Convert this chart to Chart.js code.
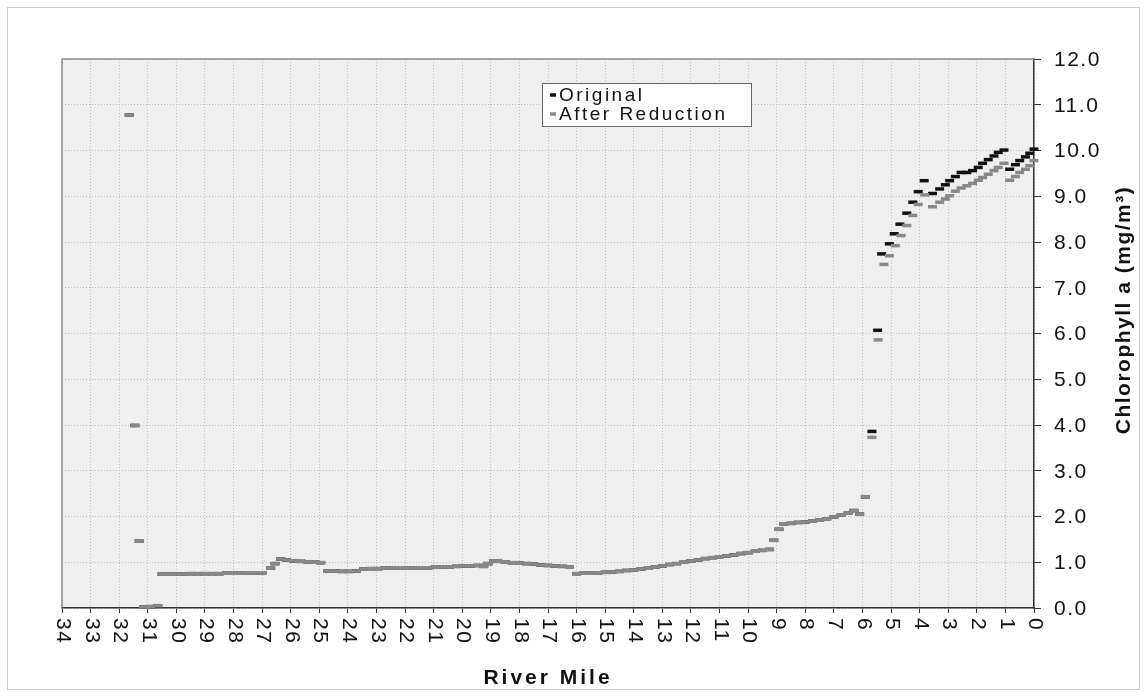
<!DOCTYPE html>
<html lang="en">
<head>
<meta charset="UTF-8">
<title>Chlorophyll a by River Mile</title>
<script src="https://cdn.jsdelivr.net/npm/chart.js"></script>
<style>
    body {
        margin: 0;
        background: #fff;
    }

    /* thin frame round the whole figure, like the scanned page */
    .frame {
        position: absolute;
        left: 7px;
        top: 7px;
        width: 1131px;
        height: 681px;
        border: 1px solid #cccccc;
    }

    .chart-box {
        position: absolute;
        left: 0;
        top: 0;
        width: 1147px;
        height: 694px;
    }
</style>
</head>
<body>
<div class="frame"></div>
<div class="chart-box"><canvas id="chlChart"></canvas></div>

<script>
// upper river: both runs give the same values here
const upstreamMile = [
    31.65, 31.45, 31.3, 31.15, 30.9, 30.65, 30.5, 30.25, 30.0, 29.75,
    29.5, 29.25, 29.0, 28.75, 28.5, 28.25, 28.0, 27.75, 27.5, 27.25,
    27.0, 26.7, 26.55, 26.35, 26.15, 25.9, 25.65, 25.4, 25.15, 24.95,
    24.7, 24.45, 24.2, 23.95, 23.7, 23.45, 23.2, 22.95, 22.7, 22.45,
    22.2, 21.95, 21.7, 21.45, 21.2, 20.95, 20.7, 20.45, 20.2, 19.95,
    19.7, 19.45, 19.25, 19.1, 18.9, 18.75, 18.5, 18.25, 18.0, 17.75,
    17.5, 17.25, 17.0, 16.75, 16.5, 16.25, 16.0, 15.75, 15.5, 15.25,
    15.0, 14.75, 14.5, 14.25, 14.0, 13.75, 13.5, 13.25, 13.0, 12.75,
    12.5, 12.25, 12.0, 11.75, 11.5, 11.25, 11.0, 10.75, 10.5, 10.25,
    10.0, 9.75, 9.5, 9.25, 9.1, 8.92, 8.75, 8.5, 8.25, 8.0,
    7.75, 7.5, 7.25, 7.0, 6.75, 6.5, 6.3, 6.1, 5.9
];
const upstreamChl = [
    10.78, 3.99, 1.46, 0.02, 0.03, 0.05, 0.74, 0.74, 0.74, 0.74,
    0.75, 0.75, 0.75, 0.75, 0.75, 0.76, 0.76, 0.76, 0.77, 0.77,
    0.77, 0.87, 0.97, 1.07, 1.05, 1.03, 1.02, 1.01, 1.00, 0.99,
    0.81, 0.81, 0.80, 0.80, 0.81, 0.85, 0.86, 0.86, 0.87, 0.87,
    0.88, 0.87, 0.87, 0.88, 0.88, 0.89, 0.90, 0.90, 0.91, 0.92,
    0.92, 0.93, 0.91, 0.97, 1.03, 1.02, 1.01, 0.99, 0.98, 0.97,
    0.96, 0.94, 0.93, 0.92, 0.91, 0.89, 0.75, 0.76, 0.76, 0.77,
    0.78, 0.79, 0.80, 0.82, 0.83, 0.85, 0.87, 0.90, 0.92, 0.95,
    0.97, 1.00, 1.03, 1.05, 1.08, 1.10, 1.12, 1.14, 1.16, 1.19,
    1.21, 1.24, 1.26, 1.28, 1.48, 1.72, 1.84, 1.85, 1.87, 1.88,
    1.90, 1.92, 1.95, 1.99, 2.03, 2.08, 2.13, 2.05, 2.43
];

// lower river, where the two runs split
const lowerMileOriginal = [
    5.67, 5.47, 5.33, 5.06, 4.89, 4.69, 4.45, 4.24, 4.05, 3.84,
    3.55, 3.30, 3.10, 2.95, 2.75, 2.55, 2.35, 2.15, 1.95, 1.80,
    1.60, 1.40, 1.25, 1.05, 0.85, 0.65, 0.50, 0.30, 0.15, 0.0
];
const lowerChlOriginal = [
    3.86, 6.07, 7.74, 7.96, 8.18, 8.39, 8.63, 8.87, 9.10, 9.34,
    9.06, 9.16, 9.25, 9.34, 9.43, 9.52, 9.52, 9.56, 9.63, 9.72,
    9.80, 9.88, 9.96, 10.01, 9.59, 9.69, 9.78, 9.86, 9.94, 10.03
];
const lowerMileReduced = [
    5.67, 5.45, 5.25, 5.06, 4.85, 4.65, 4.45, 4.24, 4.05, 3.82,
    3.55, 3.30, 3.10, 2.95, 2.75, 2.55, 2.35, 2.15, 1.95, 1.80,
    1.60, 1.40, 1.25, 1.05, 0.85, 0.65, 0.50, 0.30, 0.15, 0.0
];
const lowerChlReduced = [
    3.73, 5.86, 7.51, 7.70, 7.92, 8.14, 8.36, 8.58, 8.82, 9.03,
    8.77, 8.87, 8.94, 9.01, 9.11, 9.18, 9.23, 9.28, 9.35, 9.41,
    9.48, 9.56, 9.63, 9.72, 9.35, 9.43, 9.52, 9.59, 9.67, 9.78
];

const mileTicks = [34, 33, 32, 31, 30, 29, 28, 27, 26, 25, 24, 23, 22, 21, 20, 19, 18,
                   17, 16, 15, 14, 13, 12, 11, 10, 9, 8, 7, 6, 5, 4, 3, 2, 1, 0];
const chlTicks = [0, 1, 2, 3, 4, 5, 6, 7, 8, 9, 10, 11, 12];

const seriesNames = ['Original', 'After Reduction'];
const xTitle = 'River Mile';
const yTitle = 'Chlorophyll a (mg/m\u00B3)';

function toPoints(miles, vals) {
    return miles.map((m, i) => ({ x: m, y: vals[i] }));
}

const FONT = '"Liberation Sans", Arial, Helvetica, sans-serif';

// plot area shading, frame, tick labels, titles and legend
const decor = {
    id: 'decor',
    beforeDraw(chart) {
        const { ctx, chartArea: a } = chart;
        ctx.save();
        ctx.fillStyle = '#efefef';
        ctx.fillRect(a.left, a.top, a.right - a.left, a.bottom - a.top);
        ctx.restore();
    },
    beforeDatasetsDraw(chart) {
        const { ctx, chartArea: a } = chart;
        ctx.save();
        ctx.strokeStyle = '#8c8c8c';
        ctx.lineWidth = 1.5;
        ctx.beginPath();
        ctx.moveTo(a.left, a.bottom);
        ctx.lineTo(a.left, a.top);
        ctx.lineTo(a.right, a.top);
        ctx.stroke();
        ctx.restore();
    },
    afterDraw(chart) {
        const { ctx, chartArea: a } = chart;
        const xs = chart.scales.x;
        const ys = chart.scales.y;
        ctx.save();
        ctx.fillStyle = '#111';

        // x tick labels, turned a quarter clockwise
        ctx.font = '21px ' + FONT;
        ctx.letterSpacing = '1.5px';
        ctx.textAlign = 'left';
        ctx.textBaseline = 'middle';
        mileTicks.forEach(v => {
            const px = xs.getPixelForValue(v);
            ctx.save();
            ctx.translate(px + 1, a.bottom + 10);
            ctx.rotate(Math.PI / 2);
            ctx.fillText(String(v), 0, 0);
            ctx.restore();
        });

        // y tick labels on the right
        ctx.letterSpacing = '1.5px';
        chlTicks.forEach(v => {
            ctx.fillText(v.toFixed(1), a.right + 20, ys.getPixelForValue(v) + 1);
        });

        // axis titles
        ctx.font = 'bold 21px ' + FONT;
        ctx.letterSpacing = '3px';
        ctx.textAlign = 'center';
        ctx.fillText(xTitle, (a.left + a.right) / 2, 678);

        ctx.save();
        ctx.translate(1124, 310);
        ctx.rotate(-Math.PI / 2);
        ctx.letterSpacing = '1.5px';
        ctx.fillText(yTitle, 0, 0);
        ctx.restore();

        // legend box
        const lx = 542, ly = 83, lw = 209, lh = 43;
        ctx.fillStyle = '#fff';
        ctx.fillRect(lx, ly, lw, lh);
        ctx.strokeStyle = '#666';
        ctx.lineWidth = 1;
        ctx.strokeRect(lx + 0.5, ly + 0.5, lw, lh);

        ctx.font = '19px ' + FONT;
        ctx.letterSpacing = '2.5px';
        ctx.textAlign = 'left';
        seriesNames.forEach((name, i) => {
            const ds = chart.data.datasets.find(d => d.label === name);
            const cy = ly + 12 + i * 19;
            ctx.strokeStyle = ds.pointBorderColor;
            ctx.lineWidth = 3.5;
            ctx.beginPath();
            ctx.moveTo(lx + 8, cy);
            ctx.lineTo(lx + 14, cy);
            ctx.stroke();
            ctx.fillStyle = '#111';
            ctx.fillText(name, lx + 17, cy + 1);
        });
        ctx.restore();
    }
};

new Chart(document.getElementById('chlChart'), {
    type: 'scatter',
    data: {
        datasets: [{
            label: seriesNames[0],
            data: toPoints(upstreamMile.concat(lowerMileOriginal), upstreamChl.concat(lowerChlOriginal)),
            pointStyle: 'line',
            pointRadius: 4.5,
            pointBorderWidth: 3.5,
            pointBorderColor: '#111111',
            borderColor: '#111111',
            showLine: false,
            clip: false,
            order: 1
        }, {
            label: seriesNames[1],
            data: toPoints(upstreamMile.concat(lowerMileReduced), upstreamChl.concat(lowerChlReduced)),
            pointStyle: 'line',
            pointRadius: 4.5,
            pointBorderWidth: 3.5,
            pointBorderColor: '#888888',
            borderColor: '#888888',
            showLine: false,
            clip: false,
            order: 0
        }]
    },
    options: {
        responsive: true,
        maintainAspectRatio: false,
        animation: false,
        layout: { padding: { left: 62, top: 59, right: 0, bottom: 0 } },
        plugins: {
            legend: { display: false },
            tooltip: { enabled: false }
        },
        scales: {
            x: {
                type: 'linear',
                position: 'bottom',
                reverse: true,
                min: 0,
                max: 34,
                afterBuildTicks: s => { s.ticks = mileTicks.map(v => ({ value: v })); },
                afterFit: s => { s.height = 86; },
                ticks: { display: false },
                grid: {
                    color: '#bdbdbd',
                    lineWidth: 1,
                    tickLength: 5,
                    tickColor: '#333',
                    tickWidth: 1
                },
                border: { color: '#333', width: 1.5, dash: [1, 2] }
            },
            y: {
                type: 'linear',
                position: 'right',
                min: 0,
                max: 12,
                afterBuildTicks: s => { s.ticks = chlTicks.map(v => ({ value: v })); },
                afterFit: s => { s.width = 113; },
                ticks: { display: false },
                grid: {
                    color: '#bdbdbd',
                    lineWidth: 1,
                    tickLength: 7,
                    tickColor: '#333',
                    tickWidth: 1
                },
                border: { color: '#333', width: 1.5, dash: [1, 2] }
            }
        }
    },
    plugins: [decor]
});
</script>
</body>
</html>
